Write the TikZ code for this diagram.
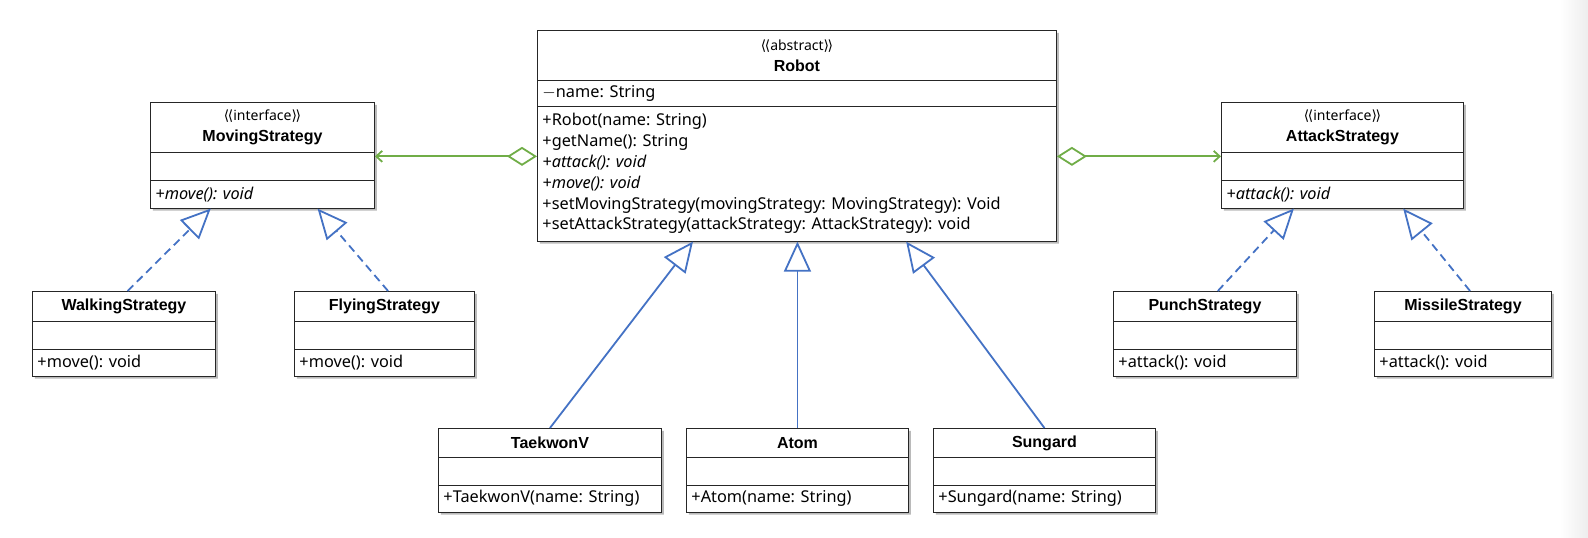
\documentclass[tikz,border=0pt]{standalone}
\usepackage{fontspec}
\setmainfont{Noto Sans}
\newfontfamily\namefont{Liberation Sans}
\newfontfamily\bracketfont{DejaVu Sans}
\usetikzlibrary{positioning, arrows.meta, shapes.multipart, shadows, calc}

\definecolor{aggrgreen}{RGB}{112,173,71}
\definecolor{inhblue}{RGB}{68,114,196}

% class sections: height, width, text
\newcommand{\clshead}[3]{\parbox[c][#1][c]{#2}{\centering #3}}
\newcommand{\clsbody}[3]{\parbox[c][#1][c]{#2}{\raggedright\leftskip=5pt\relax #3}}
\newcommand{\stereo}[1]{{\fontsize{14}{16}\selectfont{\bracketfont\char"27E8\kern-1.5pt\char"27E8}#1{\bracketfont\char"27E9\kern-1.5pt\char"27E9}}}
\newcommand{\clsname}[1]{{\namefont\fontsize{16}{19}\selectfont\bfseries #1}}

\tikzset{
  umlclass/.style={rectangle split, rectangle split parts=3, draw=black!85, line width=0.9pt,
    fill=white, inner xsep=0pt, inner ysep=0pt, anchor=north west,
    font=\fontsize{16.3}{20.8}\selectfont,
    drop shadow={shadow xshift=2.5pt, shadow yshift=-2.5pt, fill=black!45, opacity=0.6}},
  aggr/.style={aggrgreen, line width=1.8pt,
    {Diamond[length=30pt, width=19pt, fill=white]}-{Straight Barb[length=6pt, width=11pt]}},
  inherit/.style={inhblue, line width=1.8pt, -{Triangle[length=30pt, width=27pt, fill=white]}},
  realize/.style={inherit, dash pattern=on 8pt off 5pt},
}

\begin{document}
\begin{tikzpicture}[x=1pt, y=-1pt]
\useasboundingbox (0,0) rectangle (1588,538);
\shade[left color=white, right color=black!7] (1560,0) rectangle (1588,538);

% abstract class
\node[umlclass] (robot) at (537,30) {\clshead{49pt}{519pt}{\stereo{abstract}\\ \clsname{Robot}}
  \nodepart{two}\clsbody{25pt}{519pt}{$-$name: String}
  \nodepart{three}\clsbody{134pt}{519pt}{+Robot(name: String)\\
    +getName(): String\\
    \textit{+attack(): void}\\
    \textit{+move(): void}\\
    +setMovingStrategy(movingStrategy: MovingStrategy): Void\\
    +setAttackStrategy(attackStrategy: AttackStrategy): void}};

% interfaces
\node[umlclass] (moving) at (150,102) {\clshead{49pt}{224pt}{\stereo{interface}\\ \clsname{MovingStrategy}}
  \nodepart{two}\clsbody{27pt}{224pt}{}
  \nodepart{three}\clsbody{27pt}{224pt}{\textit{+move(): void}}};
\node[umlclass] (attack) at (1221,102) {\clshead{49pt}{242pt}{\stereo{interface}\\ \clsname{AttackStrategy}}
  \nodepart{two}\clsbody{27pt}{242pt}{}
  \nodepart{three}\clsbody{27pt}{242pt}{\textit{+attack(): void}}};

% strategies
\node[umlclass] (walking) at (32,291) {\clshead{29pt}{183pt}{\clsname{WalkingStrategy}}
  \nodepart{two}\clsbody{27pt}{183pt}{}
  \nodepart{three}\clsbody{26pt}{183pt}{+move(): void}};
\node[umlclass] (flying) at (294,291) {\clshead{29pt}{180pt}{\clsname{FlyingStrategy}}
  \nodepart{two}\clsbody{27pt}{180pt}{}
  \nodepart{three}\clsbody{26pt}{180pt}{+move(): void}};
\node[umlclass] (punch) at (1113,291) {\clshead{29pt}{183pt}{\clsname{PunchStrategy}}
  \nodepart{two}\clsbody{27pt}{183pt}{}
  \nodepart{three}\clsbody{26pt}{183pt}{+attack(): void}};
\node[umlclass] (missile) at (1374,291) {\clshead{29pt}{177pt}{\clsname{MissileStrategy}}
  \nodepart{two}\clsbody{27pt}{177pt}{}
  \nodepart{three}\clsbody{26pt}{177pt}{+attack(): void}};

% robots
\node[umlclass] (taekwonv) at (438,428) {\clshead{28pt}{223pt}{\clsname{TaekwonV}}
  \nodepart{two}\clsbody{27pt}{223pt}{}
  \nodepart{three}\clsbody{26pt}{223pt}{+TaekwonV(name: String)}};
\node[umlclass] (atom) at (686,428) {\clshead{28pt}{222pt}{\clsname{Atom}}
  \nodepart{two}\clsbody{27pt}{222pt}{}
  \nodepart{three}\clsbody{26pt}{222pt}{+Atom(name: String)}};
\node[umlclass] (sungard) at (933,428) {\clshead{28pt}{222pt}{\clsname{Sungard}}
  \nodepart{two}\clsbody{27pt}{222pt}{}
  \nodepart{three}\clsbody{26pt}{222pt}{+Sungard(name: String)}};

% aggregations
\coordinate (mvhook) at ([yshift=-4pt]moving.one split east);
\coordinate (athook) at ([yshift=-4pt]attack.one split west);
\draw[aggr] (robot.west |- mvhook) -- (mvhook);
\draw[aggr] (robot.east |- athook) -- (athook);

% realizations
\draw[realize] ($(walking.north west)!0.52!(walking.north east)$) -- ($(moving.south west)!0.27!(moving.south east)$);
\draw[realize] ($(flying.north west)!0.52!(flying.north east)$) -- ($(moving.south west)!0.745!(moving.south east)$);
\draw[realize] ($(punch.north west)!0.57!(punch.north east)$) -- ($(attack.south west)!0.30!(attack.south east)$);
\draw[realize] ($(missile.north west)!0.54!(missile.north east)$) -- ($(attack.south west)!0.75!(attack.south east)$);

% generalizations
\draw[inherit] ($(taekwonv.north west)!0.5!(taekwonv.north east)$) -- ($(robot.south west)!0.3!(robot.south east)$);
\draw[inherit] (atom.north) -- (atom.north |- robot.south);
\draw[inherit] ($(sungard.north west)!0.5!(sungard.north east)$) -- ($(robot.south west)!0.71!(robot.south east)$);
\end{tikzpicture}
\end{document}
